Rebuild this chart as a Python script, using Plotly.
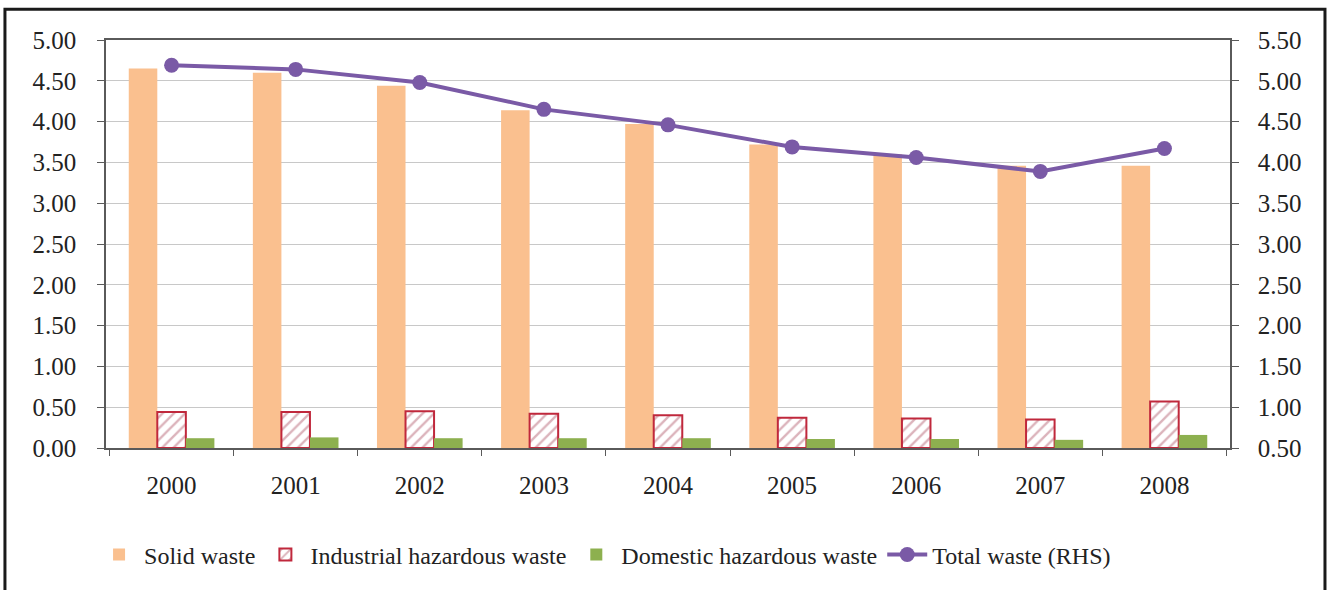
import plotly.graph_objects as go

years = ["2000", "2001", "2002", "2003", "2004", "2005", "2006", "2007", "2008"]
solid_waste = [4.65, 4.60, 4.44, 4.14, 3.97, 3.72, 3.60, 3.46, 3.46]
industrial_hazardous = [0.44, 0.44, 0.45, 0.42, 0.40, 0.37, 0.36, 0.35, 0.57]
domestic_hazardous = [0.12, 0.13, 0.12, 0.12, 0.12, 0.11, 0.11, 0.10, 0.16]
total_waste = [5.19, 5.14, 4.98, 4.65, 4.46, 4.19, 4.06, 3.89, 4.17]

left_ticks = [0, 0.5, 1, 1.5, 2, 2.5, 3, 3.5, 4, 4.5, 5]
right_ticks = [0.5, 1, 1.5, 2, 2.5, 3, 3.5, 4, 4.5, 5, 5.5]

FONT = "Liberation Serif"
AXIS_COLOR = "#5a5a5a"
GRID_COLOR = "#c8c8c8"

fig = go.Figure()

fig.add_trace(go.Bar(
    x=years, y=solid_waste, name="Solid waste",
    marker=dict(color="#FAC08F", line=dict(width=0)),
))
fig.add_trace(go.Bar(
    x=years, y=industrial_hazardous, name="Industrial hazardous waste",
    marker=dict(
        color="white",
        line=dict(color="#C0283C", width=2),
        pattern=dict(shape="/", fgcolor="#B86878", bgcolor="white",
                     size=8, solidity=0.3),
    ),
))
fig.add_trace(go.Bar(
    x=years, y=domestic_hazardous, name="Domestic hazardous waste",
    marker=dict(color="#8DB04F", line=dict(width=0)),
))
fig.add_trace(go.Scatter(
    x=years, y=total_waste, name="Total waste (RHS)", yaxis="y2",
    mode="lines+markers",
    line=dict(color="#7A5AA6", width=4),
    marker=dict(color="#7A5AA6", size=15),
))

fig.update_layout(
    width=1330, height=590,
    margin=dict(l=106, r=100, t=40, b=140),
    paper_bgcolor="white", plot_bgcolor="white",
    font=dict(family=FONT, size=24, color="#222222"),
    barmode="group", bargap=0.31, bargroupgap=0,
    showlegend=True,
    legend=dict(
        orientation="h", x=0.444, xanchor="center", y=-0.262, yanchor="middle",
        font=dict(family=FONT, size=24, color="#222222"),
        bgcolor="rgba(0,0,0,0)", traceorder="normal", itemwidth=40,
    ),
    xaxis=dict(
        type="category", tickson="boundaries", ticks="outside", ticklen=6,
        tickcolor=AXIS_COLOR, showline=True, linecolor=AXIS_COLOR, linewidth=1.5,
        mirror=True, showgrid=False, ticklabelstandoff=14,
        tickfont=dict(family=FONT, size=25),
    ),
    yaxis=dict(
        range=[0, 5], tickvals=left_ticks, tickformat=".2f",
        ticks="outside", ticklen=7, tickcolor=AXIS_COLOR,
        showline=True, linecolor=AXIS_COLOR, linewidth=1.5,
        showgrid=True, gridcolor=GRID_COLOR, gridwidth=1.2,
        zeroline=False, ticklabelstandoff=16,
        tickfont=dict(family=FONT, size=25),
    ),
    yaxis2=dict(
        range=[0.5, 5.5], tickvals=right_ticks, tickformat=".2f",
        overlaying="y", side="right",
        ticks="outside", ticklen=7, tickcolor=AXIS_COLOR,
        showline=True, linecolor=AXIS_COLOR, linewidth=1.5,
        showgrid=False, zeroline=False, ticklabelstandoff=14,
        tickfont=dict(family=FONT, size=25),
    ),
)

# outer frame around the whole chart
fig.add_shape(
    type="rect", xref="paper", yref="paper",
    x0=-0.0899, x1=1.0845, y0=-0.40, y1=1.0756,
    line=dict(color="#1a1a1a", width=3), fillcolor="rgba(0,0,0,0)", layer="above",
)

fig.write_html("out.html")
